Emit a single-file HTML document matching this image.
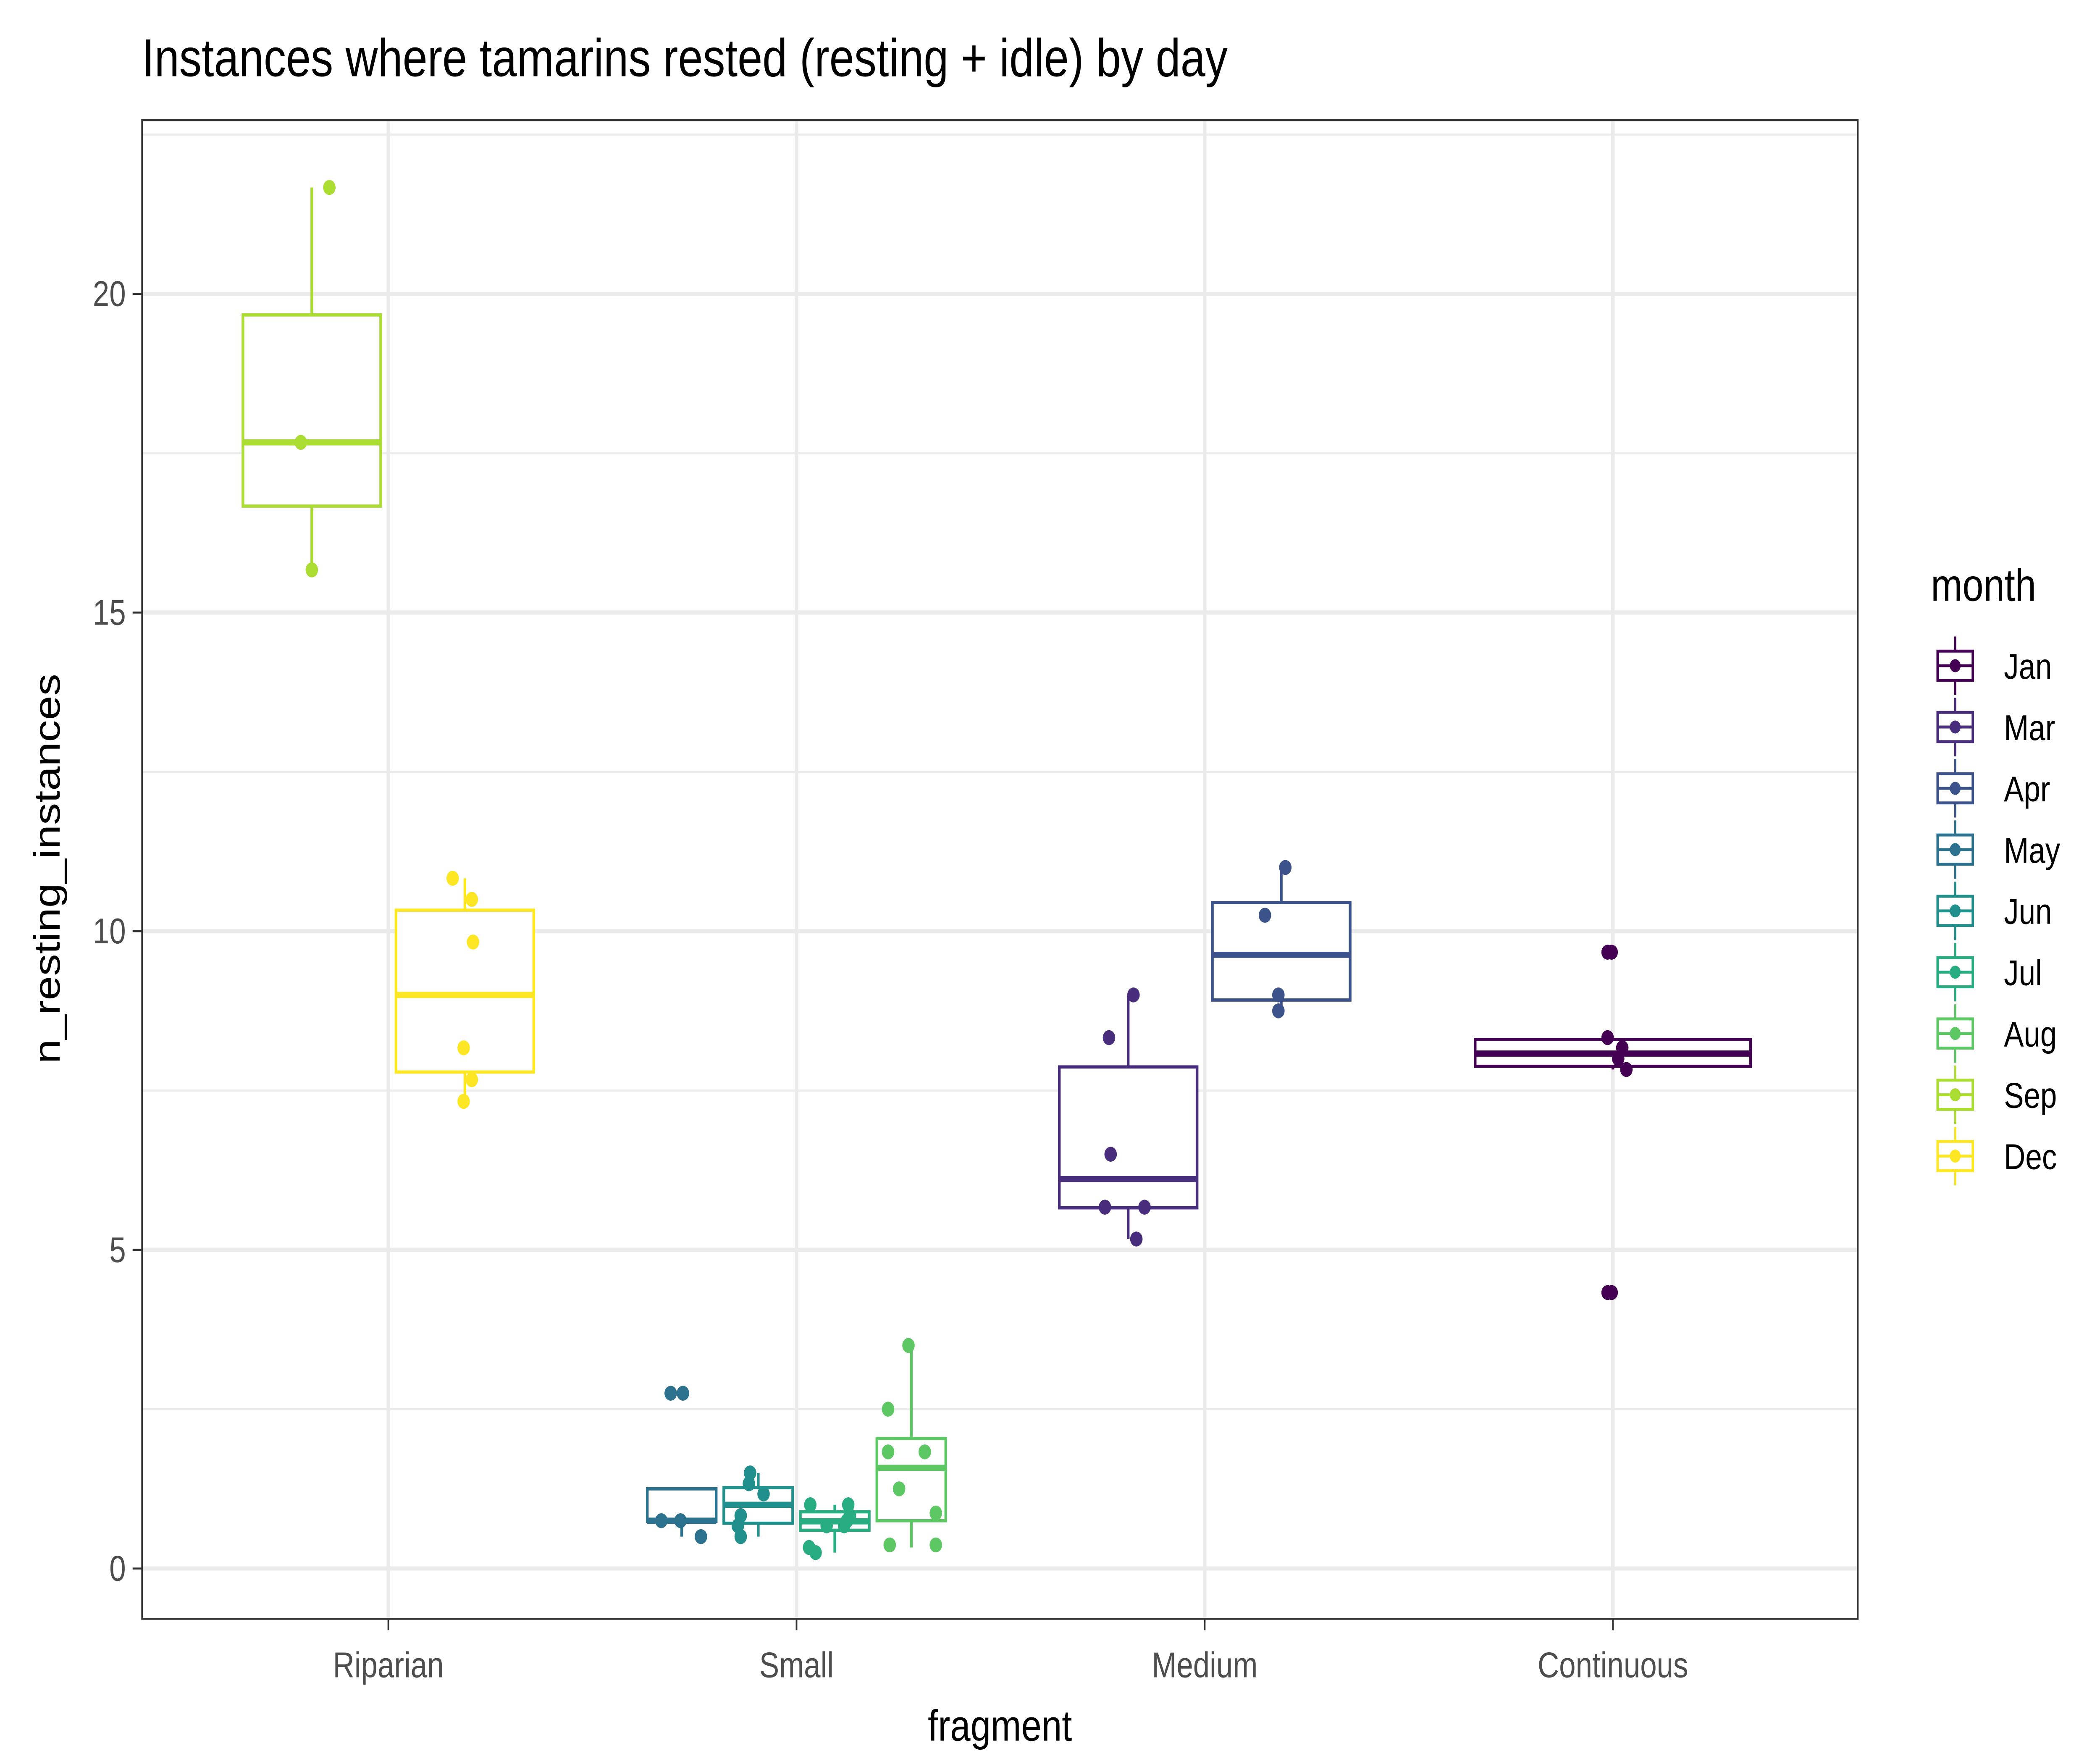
<!DOCTYPE html>
<html><head><meta charset="utf-8"><style>
html,body{margin:0;padding:0;background:#fff;overflow:hidden;width:100%;height:100%}
svg{display:block;width:100vw;height:100vh}
text{font-family:"Liberation Sans",Arial,sans-serif}
</style></head><body>
<svg id="chart" viewBox="0 0 1552 1086.4" preserveAspectRatio="none" xmlns="http://www.w3.org/2000/svg">
<rect x="0" y="0" width="1552" height="1086.4" fill="#fff"/>
<text x="105" y="47" font-size="33" fill="#000">Instances where tamarins rested (resting + idle) by day</text>
<g id="grid"></g>
<g id="marks"></g>
<rect x="105" y="74" width="1268" height="923" fill="none" stroke="#333" stroke-width="1.2"/>
<g id="axes"></g>
<text x="739" y="1072" font-size="27" text-anchor="middle" fill="#000">fragment</text>
<text transform="translate(44,535) rotate(-90)" font-size="27" text-anchor="middle" fill="#000">n_resting_instances</text>
<g id="legend"></g>
</svg>
<script>
const categories = ["Riparian","Small","Medium","Continuous"];
const months = ["Jan","Mar","Apr","May","Jun","Jul","Aug","Sep","Dec"];
const colors = ["#440154","#472D7B","#3B528B","#2C728E","#21908C","#27AD81","#5DC863","#AADC32","#FDE725"];
const yTicks = [0,5,10,15,20];
const groupMonth = ["Sep","Dec","May","Jun","Jul","Aug","Mar","Apr","Jan"];
const groupFragment = ["Riparian","Riparian","Small","Small","Small","Small","Medium","Medium","Continuous"];
const groupSlot = [0,1,0,1,2,3,0,1,0];
const groupSlots = [2,2,4,4,4,4,2,2,1];
const whiskLo = [15.67,7.33,0.5,0.5,0.25,0.33,5.17,8.75,7.83];
const q1 = [16.67,7.79,0.74,0.71,0.6,0.75,5.66,8.92,7.88];
const med = [17.67,9.0,0.75,1.0,0.74,1.58,6.11,9.63,8.08];
const q3 = [19.67,10.33,1.25,1.27,0.89,2.04,7.87,10.45,8.3];
const whiskHi = [21.67,10.83,1.25,1.5,1.0,3.5,9.0,11.0,8.33];
const pointVals = [
 [21.67,17.67,15.67],
 [10.83,10.5,9.83,8.17,7.67,7.33],
 [2.75,2.75,0.75,0.75,0.5],
 [1.5,1.33,1.17,0.83,0.67,0.5],
 [1.0,1.0,0.83,0.67,0.67,0.75,0.33,0.25],
 [3.5,2.5,1.83,1.83,1.25,0.87,0.37,0.37],
 [9.0,8.33,6.5,5.67,5.67,5.17],
 [11.0,10.25,9.0,8.75],
 [9.67,9.67,8.33,8.17,8.0,7.83,4.33,4.33]
];
const pointJit = [
 [0.043,-0.027,0.0],
 [-0.03,0.017,0.02,-0.003,0.017,-0.003],
 [-0.027,0.003,-0.05,-0.003,0.047],
 [-0.02,-0.023,0.013,-0.043,-0.05,-0.043],
 [-0.06,0.033,0.037,0.023,-0.02,0.03,-0.063,-0.047],
 [-0.007,-0.057,-0.057,0.033,-0.03,0.06,-0.053,0.06],
 [0.013,-0.047,-0.043,-0.057,0.04,0.02],
 [0.01,-0.04,-0.007,-0.007],
 [-0.013,-0.003,-0.013,0.023,0.013,0.033,-0.013,-0.003]
];
const NS="http://www.w3.org/2000/svg";
const PX0=105,PX1=1373,PY0=74,PY1=997;
const xScale = i => 287 + i*301.67;
const catW = 301.67;
const yScale = v => 966 - v*39.25;
function mk(tag,attrs,parent){const e=document.createElementNS(NS,tag);for(const k in attrs)e.setAttribute(k,attrs[k]);parent.appendChild(e);return e;}
const grid=document.getElementById('grid'),marks=document.getElementById('marks'),axes=document.getElementById('axes'),legend=document.getElementById('legend');
mk('rect',{x:PX0,y:PY0,width:PX1-PX0,height:PY1-PY0,fill:'#fff'},grid);
for(let t=-2.5;t<=22.5;t+=2.5){const y=yScale(t);if(y<PY0||y>PY1)continue;const major=yTicks.includes(t);
 const l=mk('line',{x1:PX0,x2:PX1,y1:y,y2:y,stroke:'#ebebeb','stroke-width':major?2.6:1.3},grid);
 
 }
categories.forEach((c,i)=>{const x=xScale(i);
 const l=mk('line',{x1:x,x2:x,y1:PY0,y2:PY1,stroke:'#ebebeb','stroke-width':2.6},grid);
 
 
 const tk=mk('line',{x1:x,x2:x,y1:PY1,y2:PY1+7,stroke:'#333','stroke-width':1.2},axes);
 
 
 const t=mk('text',{x:x,y:1033,'font-size':22,'text-anchor':'middle',fill:'#4d4d4d'},axes);t.textContent=c;
 
 });
yTicks.forEach(v=>{const y=yScale(v);
 const tk=mk('line',{x1:PX0-7,x2:PX0,y1:y,y2:y,stroke:'#333','stroke-width':1.2},axes);
 
 
 const t=mk('text',{x:PX0-12,y:y+7.5,'font-size':22,'text-anchor':'end',fill:'#4d4d4d'},axes);t.textContent=v;
 
 });
groupMonth.forEach((m,g)=>{
 const col=colors[months.indexOf(m)];
 const ci=categories.indexOf(groupFragment[g]);
 const n=groupSlots[g];const slotW=catW*0.75/n;
 const cx=xScale(ci)-catW*0.375+slotW*(groupSlot[g]+0.5);
 const bw=slotW*0.9;
 const G=mk('g',{},marks);
 
 
 mk('line',{x1:cx,x2:cx,y1:yScale(q3[g]),y2:yScale(whiskHi[g]),stroke:col,'stroke-width':2},G);
 mk('line',{x1:cx,x2:cx,y1:yScale(q1[g]),y2:yScale(whiskLo[g]),stroke:col,'stroke-width':2},G);
 mk('rect',{x:cx-bw/2,y:yScale(q3[g]),width:bw,height:yScale(q1[g])-yScale(q3[g]),fill:'#fff',stroke:col,'stroke-width':2},G);
 mk('line',{x1:cx-bw/2,x2:cx+bw/2,y1:yScale(med[g]),y2:yScale(med[g]),stroke:col,'stroke-width':3.8},G);
 pointVals[g].forEach((v,k)=>{
  const p=mk('circle',{cx:cx+pointJit[g][k]*catW,cy:yScale(v),r:4.6,fill:col},G);
  
  });
});
const lt=mk('text',{x:1427,y:370,'font-size':28,fill:'#000'},legend);lt.textContent='month';


months.forEach((m,i)=>{const y=410+i*37.75;const col=colors[i];
 const G=mk('g',{},legend);
 
 
 mk('line',{x1:1445,x2:1445,y1:y-18,y2:y+18,stroke:col,'stroke-width':1.5},G);
 mk('rect',{x:1432,y:y-9,width:26,height:18,fill:'#fff',stroke:col,'stroke-width':1.8},G);
 mk('line',{x1:1432,x2:1458,y1:y,y2:y,stroke:col,'stroke-width':1.8},G);
 mk('circle',{cx:1445,cy:y,r:4,fill:col},G);
 const t=mk('text',{x:1481,y:y+8,'font-size':22,fill:'#000'},G);t.textContent=m;});
</script>
</body></html>
